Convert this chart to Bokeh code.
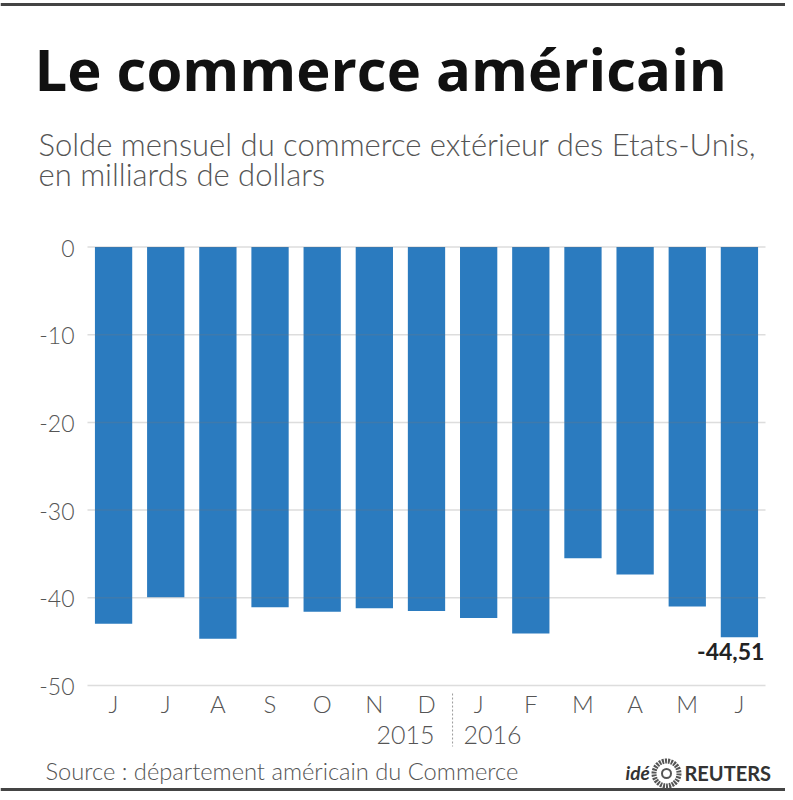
from bokeh.plotting import figure
from bokeh.models import Range1d
from bokeh.core.properties import value
from bokeh.embed import file_html
from bokeh.resources import INLINE

# ---- data ----
months = ["J", "J", "A", "S", "O", "N", "D", "J", "F", "M", "A", "M", "J"]
balance = [-42.97, -39.93, -44.68, -41.07, -41.60, -41.18, -41.50,
           -42.30, -44.07, -35.48, -37.34, -40.99, -44.51]
years = ["2015", "2016"]
yticks = [-50, -40, -30, -20, -10, 0]
ytick_labels = ["-50", "-40", "-30", "-20", "-10", "0"]

title = "Le commerce américain"
subtitle1 = "Solde mensuel du commerce extérieur des Etats-Unis,"
subtitle2 = "en milliards de dollars"
source = "Source : département américain du Commerce"

BLUE = "#2b7bbf"
GREY = "#555555"
LIGHT = "Lato Light"

# ---- layout helpers (picture pixel -> data) ----
PXU = (765 - 87) / 13.0
PYU = (685 - 246.5) / 50.0
def X(px):
    return (px - 87) / PXU - 0.5
def Y(py):
    return -(py - 246.5) / PYU
K = 0.42  # baseline correction (fraction of font size)
def BL(py, fs):
    return Y(py - K * fs)

W, H = 785, 792
p = figure(width=W, height=H, output_backend="svg", toolbar_location=None,
           x_range=Range1d(X(0), X(W)), y_range=Range1d(Y(H), Y(0)),
           x_axis_location=None, y_axis_location=None,
           min_border=0)
p.outline_line_color = None
p.background_fill_color = "white"
p.border_fill_color = "white"
p.xgrid.visible = False
p.ygrid.visible = False

# frame rules top and bottom
p.segment(x0=[X(0), X(0)], x1=[X(W), X(W)], y0=[Y(4), Y(789)], y1=[Y(4), Y(789)],
          line_color="#444444", line_width=3)

idx = list(range(len(months)))
p.vbar(x=idx, top=balance, bottom=0, width=0.715, fill_color=BLUE, line_color=None)

# horizontal grid lines (drawn over the bars, translucent)
n = len(yticks)
p.segment(x0=[-0.5] * n, x1=[12.5] * n, y0=yticks, y1=yticks,
          line_color="#777777", line_alpha=0.25, line_width=1.5)

# y tick labels
p.text(x=[-0.5] * n, y=yticks, text=ytick_labels, text_align="right",
       text_baseline="middle", x_offset=-13, y_offset=1,
       text_font=value(LIGHT), text_font_size="23px", text_color=GREY)

# month labels
p.text(x=idx, y=[-50] * len(idx), text=months, text_align="center",
       text_baseline="alphabetic", y_offset=28 - K * 24,
       text_font=value(LIGHT), text_font_size="24px", text_color=GREY)

# year labels and separator
p.text(x=[6.5, 6.5], y=[-50, -50], text=years, text_align=["right", "left"],
       text_baseline="alphabetic", x_offset=[-18, 11], y_offset=[60 - K * 25] * 2,
       text_font=value(LIGHT), text_font_size="25px", text_color=GREY)
p.segment(x0=[6.5], y0=[Y(693)], x1=[6.5], y1=[Y(746)], line_color="#999999",
          line_dash="2 2", line_width=1)

# value label
last = len(balance) - 1
p.text(x=[last], y=[balance[last]], text=[f"{balance[last]:.2f}".replace(".", ",")],
       text_align="right", text_baseline="alphabetic", x_offset=25,
       y_offset=24 - K * 23,
       text_font=value("Lato"), text_font_style="bold", text_font_size="23px",
       text_color="#222222")

# titles
p.text(x=[X(34)], y=[BL(92.7, 58)], text=[title], text_baseline="alphabetic",
       text_font=value("Open Sans"), text_font_style="bold",
       text_font_size="58px", text_color="#111111")
p.text(x=[X(38), X(38)], y=[BL(156.7, 31), BL(186.7, 31)], text=[subtitle1, subtitle2],
       text_baseline="alphabetic", text_font=value(LIGHT),
       text_font_size="31px", text_color=GREY)
p.text(x=[X(45)], y=[BL(781, 24)], text=[source], text_baseline="alphabetic",
       text_font=value(LIGHT), text_font_size="23.7px", text_color=GREY)

# Reuters mark
p.text(x=[X(625)], y=[BL(780, 19)], text=["idé"], text_baseline="alphabetic",
       text_font=value("Lato"), text_font_style="bold italic",
       text_font_size="19px", text_color="#333333")
p.scatter(x=[X(666)], y=[Y(773)], marker="circle", size=25, fill_color=None,
          line_color="#555555", line_width=5, line_dash="2 1")
p.scatter(x=[X(666)], y=[Y(773)], marker="circle", size=9, fill_color="white",
          line_color="#555555", line_width=2)
p.text(x=[X(684)], y=[BL(781, 20)], text=["REUTERS"], text_baseline="alphabetic",
       text_font=value("Lato"), text_font_style="bold",
       text_font_size="20px", text_color="#333333")

open("out.html", "w").write(file_html(p, INLINE))
